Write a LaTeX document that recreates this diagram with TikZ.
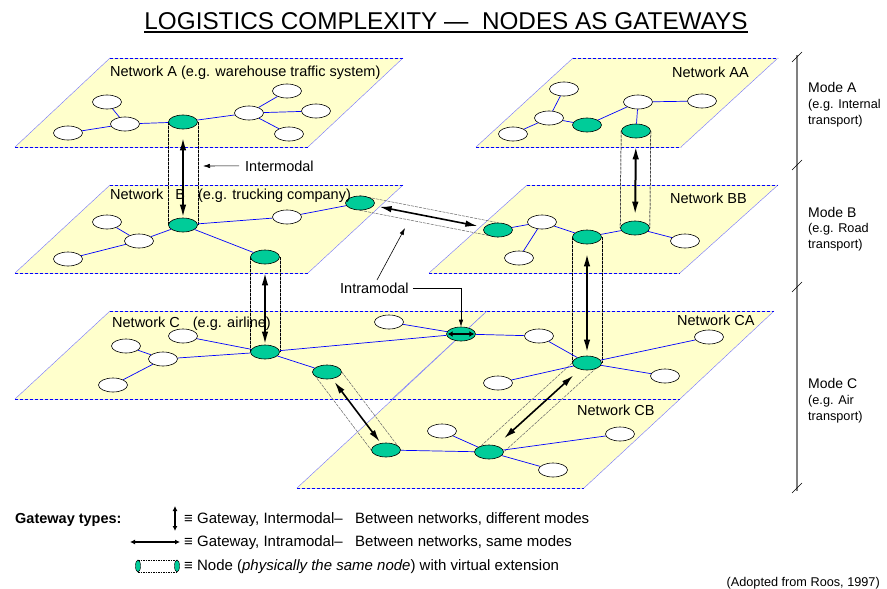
\documentclass[tikz,border=0pt]{standalone}
\usepackage{fontspec}
\setmainfont{Liberation Sans}
\usetikzlibrary{shapes.geometric,arrows.meta,calc}
\definecolor{planefill}{RGB}{255,255,204}
\definecolor{gwgreen}{RGB}{0,204,153}
\pgfdeclarelayer{background}
\pgfsetlayers{background,main}

% a network plane: top-left x, top-right x, top y, bottom y, horizontal shift of the bottom edge
\newcommand\netplane[5]{%
  \fill[planefill] (#1,#3) -- (#2,#3) -- (#2-#5,#4) -- (#1-#5,#4) -- cycle;
  \draw[pside] (#1,#3) -- (#1-#5,#4);
  \draw[pside] (#2,#3) -- (#2-#5,#4);
  \draw[pedgebase] (#1,#3) -- (#2,#3);
  \draw[pedgebase] (#1-#5,#4) -- (#2-#5,#4);
  \draw[pedge] (#1,#3) -- (#2,#3);
  \draw[pedge] (#1-#5,#4) -- (#2-#5,#4);
}

\tikzset{
  nd/.style={ellipse, draw=black, line width=0.6pt, fill=white,
    minimum width=29pt, minimum height=14pt, inner sep=0pt},
  gw/.style={nd, fill=gwgreen},
  link/.style={draw=blue, line width=0.7pt},
  pside/.style={draw=blue!55, line width=0.4pt},
  pedge/.style={draw=blue, line width=0.7pt, dash pattern=on 3pt off 2pt},
  pedgebase/.style={draw=gray!30, line width=0.7pt},
  tubebase/.style={draw=gray!70, line width=0.5pt},
  tube/.style={draw=black, line width=0.5pt, dash pattern=on 2.5pt off 1.5pt},
  intertube/.style={draw=black!60, line width=0.5pt, dash pattern=on 3pt off 1pt},
  interarrow/.style={{Latex[length=13pt,width=6.5pt]}-{Latex[length=13pt,width=6.5pt]}, line width=2pt},
  intraarrow/.style={{Latex[length=12pt,width=6.5pt]}-{Latex[length=12pt,width=6.5pt]}, line width=1.6pt},
  smallarrow/.style={{Latex[length=5pt,width=6pt]}-{Latex[length=5pt,width=6pt]}, line width=1.8pt},
  legarrow/.style={{Latex[length=5pt,width=5pt]}-{Latex[length=5pt,width=5pt]}, line width=1.2pt},
  pointer/.style={-{Latex[length=7pt,width=4.5pt]}, line width=0.6pt},
  lbl/.style={font=\fontsize{14.5}{17}\selectfont, inner sep=0pt, anchor=base west},
  modebig/.style={font=\fontsize{14}{16}\selectfont, inner sep=0pt, anchor=base west},
  modesmall/.style={font=\fontsize{12.7}{15}\selectfont, inner sep=0pt, anchor=base west},
  legtext/.style={font=\fontsize{15}{17}\selectfont, inner sep=0pt, anchor=base west},
  leggw/.style={ellipse, draw=black, line width=0.4pt, fill=gwgreen,
    minimum width=5pt, minimum height=12pt, inner sep=0pt},
}

\begin{document}
\begin{tikzpicture}[x=1pt,y=-1pt]
\useasboundingbox (0,0) rectangle (887,589);

% ---------- Title ----------
\node[anchor=base, inner sep=0pt, font=\fontsize{24.3}{28}\selectfont] (title) at (446,29)
  {LOGISTICS COMPLEXITY — \ NODES AS GATEWAYS};
\draw[line width=1.8pt] ([yshift=-3pt]title.base west) -- ([yshift=-3pt]title.base east);

% ---------- Nodes: Network A ----------
\node[nd] (a1) at (68,133) {};
\node[nd] (a2) at (107,102) {};
\node[nd] (a3) at (125,124) {};
\node[gw] (gA) at (183,122) {};
\node[nd] (a5) at (249,113) {};
\node[nd] (a6) at (287,91) {};
\node[nd] (a7) at (316,111) {};
\node[nd] (a8) at (289,134) {};

% ---------- Network B ----------
\node[nd] (b1) at (68,259) {};
\node[nd] (b2) at (107,222) {};
\node[nd] (b3) at (139,241) {};
\node[gw] (gB1) at (183,225) {};
\node[nd] (b5) at (287,217) {};
\node[gw] (gB2) at (360,203) {};
\node[gw] (gB3) at (265,257) {};

% ---------- Network AA ----------
\node[nd] (aa1) at (513,134) {};
\node[nd] (aa2) at (564,89) {};
\node[nd] (aa3) at (549,118) {};
\node[gw] (gAA1) at (587,125) {};
\node[nd] (aa5) at (638,102) {};
\node[nd] (aa6) at (702,101) {};
\node[gw] (gAA2) at (636,131) {};

% ---------- Network BB ----------
\node[gw] (gBB1) at (498,230) {};
\node[nd] (bb2) at (542,222) {};
\node[nd] (bb3) at (519,258) {};
\node[gw] (gBB2) at (587,237) {};
\node[gw] (gBB3) at (635,228) {};
\node[nd] (bb6) at (685,241) {};

% ---------- Network C ----------
\node[nd] (c1) at (126,346) {};
\node[nd] (c2) at (183,336) {};
\node[nd] (c3) at (163,359) {};
\node[nd] (c4) at (113,385) {};
\node[gw] (gC1) at (265,352) {};
\node[gw] (gC2) at (327,372) {};

% ---------- Network CA ----------
\node[nd] (ca1) at (389,322) {};
\node[gw] (gCA1) at (461,334) {};
\node[nd] (ca3) at (539,336) {};
\node[gw] (gCA2) at (587,363) {};
\node[nd] (ca5) at (709,337) {};
\node[nd] (ca6) at (665,376) {};
\node[nd] (ca7) at (498,383) {};

% ---------- Network CB ----------
\node[gw] (gCB1) at (386,450) {};
\node[nd] (cb2) at (442,431) {};
\node[gw] (gCB2) at (489,452) {};
\node[nd] (cb4) at (620,434) {};
\node[nd] (cb5) at (553,470) {};

% ---------- Links inside the networks ----------
\foreach \u/\v in {a1/a3, a2/a3, a3/gA, gA/a5, a5/a6, a5/a7, a5/a8,
                   b1/b3, b2/b3, b3/gB1, gB1/b5, b5/gB2, gB1/gB3,
                   aa1/aa3, aa2/aa3, aa3/gAA1, gAA1/aa5, aa5/aa6, aa5/gAA2,
                   gBB1/bb2, bb2/bb3, bb2/gBB2, gBB2/gBB3, gBB3/bb6,
                   c1/c3, c3/c4, c3/gC1, c2/gC1, gC1/gC2, gC1/gCA1,
                   ca1/gCA1, gCA1/ca3, ca3/gCA2, gCA2/ca5, gCA2/ca6, gCA2/ca7,
                   gCB1/gCB2, cb2/gCB2, gCB2/cb4, gCB2/cb5}
  \draw[link] (\u) -- (\v);

% ---------- Planes and virtual extensions (behind the nodes) ----------
\begin{pgfonlayer}{background}
  \fill[white] (0,0) rectangle (887,589);
  \netplane{110}{403}{58}{147}{95}
  \netplane{573}{778}{58}{147}{97}
  \netplane{110}{403}{185}{273}{95}
  \netplane{527}{778}{185}{273}{98}
  \netplane{110}{487}{311}{399}{95}
  \netplane{487}{774}{311}{399}{94}
  \netplane{393}{680}{399}{488}{96}

  % intermodal extensions (vertical)
  \foreach \p/\q in {gA/gB1, gB3/gC1, gAA2/gBB3, gBB2/gCA2} {
    \draw[tubebase] (\p.west) -- (\q.west);
    \draw[tubebase] (\p.east) -- (\q.east);
    \draw[tube] (\p.west) -- (\q.west);
    \draw[tube] (\p.east) -- (\q.east);
  }
  % intramodal extensions
  \draw[intertube] (gB2.north) -- (gBB1.north);
  \draw[intertube] (gB2.south) -- (gBB1.south);
  \foreach \p/\q in {gC2/gCB1, gCA2/gCB2} {
    \draw[intertube] (\p.west) -- (\q.west);
    \draw[intertube] (\p.east) -- (\q.east);
  }
\end{pgfonlayer}

% ---------- Network labels ----------
\node[lbl] (labA) at (110,76) {Network A (e.g. warehouse traffic system)};
\node[lbl] (labB) at (110,199) {Network\hspace{12pt}B\hspace{13pt}(e.g. trucking company)};
\node[lbl] (labAA) at (672,77) {Network AA};
\node[lbl] (labBB) at (670,203) {Network BB};
\node[lbl] (labC) at (112,327) {Network C\hspace{13pt}(e.g. airline)};
\node[lbl] (labCA) at (677,325) {Network CA};
\node[lbl] (labCB) at (577,415) {Network CB};

% ---------- Gateways ----------
\draw[interarrow, shorten <=8pt] (gA) -- (gB1);
\draw[interarrow, shorten <=8pt] (gB3) -- (gC1);
\draw[interarrow, shorten <=8pt, shorten >=6pt] (gAA2) -- (gBB3);
\draw[interarrow, shorten <=9pt, shorten >=3pt] (gBB2) -- (gCA2);
\draw[intraarrow, shorten <=6pt, shorten >=7pt] (gB2) -- (gBB1);
\draw[intraarrow, shorten <=4pt, shorten >=2pt] (gC2) -- (gCB1);
\draw[intraarrow, shorten <=9pt, shorten >=11pt] (gCA2) -- (gCB2);
\draw[smallarrow, shorten <=1.5pt, shorten >=1.5pt] (gCA1.west) -- (gCA1.east);

% ---------- Callouts ----------
\node[lbl] (intertext) at (245,171) {Intermodal};
\coordinate (intertip) at (203,166);
\draw[pointer, shorten <=6pt] (intertext.west) -- (intertip);

\node[lbl] (intratext) at (340,293) {Intramodal};
\coordinate (intrastart) at (377,280);
\coordinate (intratip) at (405,228);
\draw[pointer] (intrastart) -- (intratip);
\draw[pointer, shorten <=4pt] (intratext.east) -| (gCA1.north);

% ---------- Modes ----------
\coordinate (mtop) at (797,55);
\coordinate (mbot) at (797,491);
\draw[draw=gray, line width=1.4pt] (mtop) -- (mbot);
\foreach \y in {57,165,287,488}
  \draw[line width=0.6pt] (792,\y+5) -- (802,\y-5);

\node[modebig] (mA) at (808,92) {Mode A};
\node[modesmall] (mA1) at (808,108) {(e.g. Internal};
\node[modesmall] (mA2) at (808,124) {transport)};
\node[modebig] (mB) at (808,217) {Mode B};
\node[modesmall] (mB1) at (808,232) {(e.g. Road};
\node[modesmall] (mB2) at (808,248) {transport)};
\node[modebig] (mC) at (808,388) {Mode C};
\node[modesmall] (mC1) at (808,404) {(e.g. Air};
\node[modesmall] (mC2) at (808,420) {transport)};

% ---------- Legend ----------
\node[font=\bfseries\fontsize{14.5}{17}\selectfont, inner sep=0pt, anchor=base west]
  (gwtypes) at (15,523) {Gateway types:};
\coordinate (lv1) at (175,506);
\coordinate (lv2) at (175,531);
\draw[legarrow] (lv1) -- (lv2);
\coordinate (lh1) at (130,542);
\coordinate (lh2) at (180,542);
\draw[legarrow] (lh1) -- (lh2);
\node[leggw] (lg1) at (138,566) {};
\node[leggw] (lg2) at (177,566) {};
\draw[line width=0.5pt, dash pattern=on 1.5pt off 1pt] (lg1.north) -- (lg2.north);
\draw[line width=0.5pt, dash pattern=on 1.5pt off 1pt] (lg1.south) -- (lg2.south);

\node[legtext] (leg1) at (184,523) {≡ Gateway, Intermodal–\ \ \ Between networks, different modes};
\node[legtext] (leg2) at (184,546) {≡ Gateway, Intramodal–\ \ \ Between networks, same modes};
\node[legtext] (leg3) at (184,570) {≡ Node (\textit{physically the same node}) with virtual extension};

\node[font=\fontsize{12.7}{15}\selectfont, inner sep=0pt, anchor=base east] (src) at (880,586)
  {(Adopted from Roos, 1997)};
\end{tikzpicture}
\end{document}
